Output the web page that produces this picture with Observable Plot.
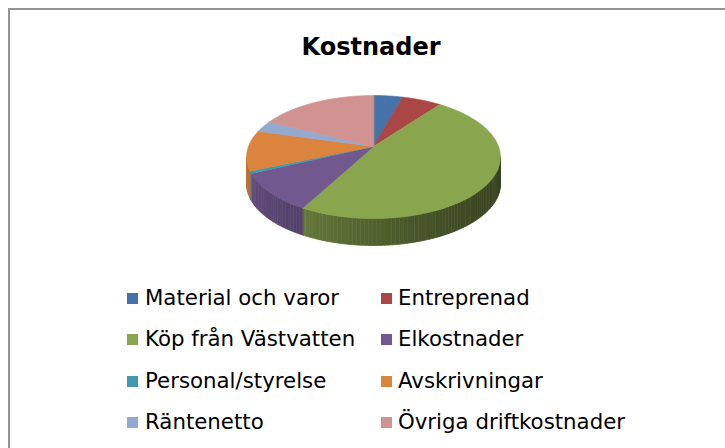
<!DOCTYPE html>
<html><head><meta charset="utf-8">
<script src="https://cdn.jsdelivr.net/npm/d3@7"></script>
<script src="https://cdn.jsdelivr.net/npm/@observablehq/plot@0.6"></script>
<style>
html,body{margin:0;padding:0;width:725px;height:448px;overflow:hidden;background:#fff;}
body{font-family:"DejaVu Sans",Verdana,sans-serif;position:relative;}
#frame{position:absolute;left:8px;top:8px;width:760px;height:480px;border-left:2px solid #949494;border-top:2px solid #949494;box-sizing:border-box;}
#chart{position:absolute;left:0;top:0;}
#title{position:absolute;left:271px;width:200px;top:33px;text-align:center;font-weight:bold;font-size:24px;line-height:28px;color:#000;}
.lg{position:absolute;font-size:21.3px;line-height:25px;color:#000;white-space:nowrap;}
.sw{position:absolute;width:11px;height:11px;}
</style></head>
<body>
<div id="frame"></div>
<div id="chart"></div>
<div id="title">Kostnader</div>
<div id="legend"></div>
<script>
const categories = ["Material och varor","Entreprenad","Köp från Västvatten","Elkostnader","Personal/styrelse","Avskrivningar","Räntenetto","Övriga driftkostnader"];
const values = [4.4, 5.9, 47.7, 10.1, 0.6, 10.6, 3.0, 17.7];
const colors = ["#4572A7","#AA4643","#89A54E","#71588F","#4198AF","#DB843D","#93A9CF","#D19392"];

// 3D pie geometry (pixels)
const cx = 373, cy = 146, rx = 125, ry = 59.7, persp = 0.171, depth = 27;
function proj(theta, z) {
  const u = Math.sin(theta), v = -Math.cos(theta), s = 1 / (1 - persp * v);
  return [u * s, (v * s * ry + z * depth) / rx];
}
const total = d3.sum(values);
let acc = 0;
const slices = values.map((v, i) => {
  const t0 = acc / total * 2 * Math.PI; acc += v;
  const t1 = acc / total * 2 * Math.PI;
  return {i, t0, t1, color: colors[i]};
});
const visL = Math.PI - Math.acos(persp), visR = Math.PI + Math.acos(persp);
const rows = [];
let sid = 0;
// side walls
for (const s of slices) {
  const a0 = Math.max(s.t0, visL), a1 = Math.min(s.t1, visR);
  if (a1 <= a0) continue;
  const n = Math.max(1, Math.ceil((a1 - a0) / (1.5 * Math.PI / 180)));
  for (let k = 0; k < n; k++) {
    const ta = a0 + (a1 - a0) * k / n, tb = a0 + (a1 - a0) * (k + 1) / n;
    const pa = proj(ta, 0), pb = proj(tb, 0), pc = proj(tb, 1), pd = proj(ta, 1);
    const X = (pa[0] + pb[0]) / 2;
    const dk = Math.max(0.3, 0.9 + (X + 0.55) / 1.55 * 1.6);
    const col = d3.color(s.color).darker(dk).formatHex();
    const id = "side" + (sid++);
    for (const p of [pa, pb, pc, pd]) rows.push({id, x: p[0], y: p[1], fill: col});
  }
}
// top faces
for (const s of slices) {
  const id = "top" + s.i;
  rows.push({id, x: 0, y: 0, fill: s.color});
  const n = Math.max(2, Math.ceil((s.t1 - s.t0) / (0.5 * Math.PI / 180)));
  for (let k = 0; k <= n; k++) {
    const p = proj(s.t0 + (s.t1 - s.t0) * k / n, 0);
    rows.push({id, x: p[0], y: p[1], fill: s.color});
  }
}

const plot = Plot.plot({
  width: 725, height: 448,
  margin: 0,
  x: {domain: [-1, 1], range: [cx - rx, cx + rx], axis: null},
  y: {domain: [-1, 1], range: [cy - rx, cy + rx], axis: null},
  color: {type: "identity"},
  style: {background: "transparent"},
  marks: [
    Plot.line(rows, {x: "x", y: "y", z: "id", fill: "fill", stroke: "fill", strokeWidth: 0.7, curve: "linear-closed"})
  ]
});
document.getElementById("chart").appendChild(plot);

// legend
const legend = document.getElementById("legend");
categories.forEach((c, i) => {
  const col = i % 2, row = Math.floor(i / 2);
  const base = 305 + row * 41.3;
  const sw = document.createElement("div");
  sw.className = "sw";
  sw.style.left = (col ? 381 : 127) + "px";
  sw.style.top = (base - 12) + "px";
  sw.style.background = colors[i];
  legend.appendChild(sw);
  const t = document.createElement("div");
  t.className = "lg";
  t.style.left = (col ? 398 : 145) + "px";
  t.style.top = (base - 20) + "px";
  t.textContent = c;
  legend.appendChild(t);
});
</script>
</body></html>
